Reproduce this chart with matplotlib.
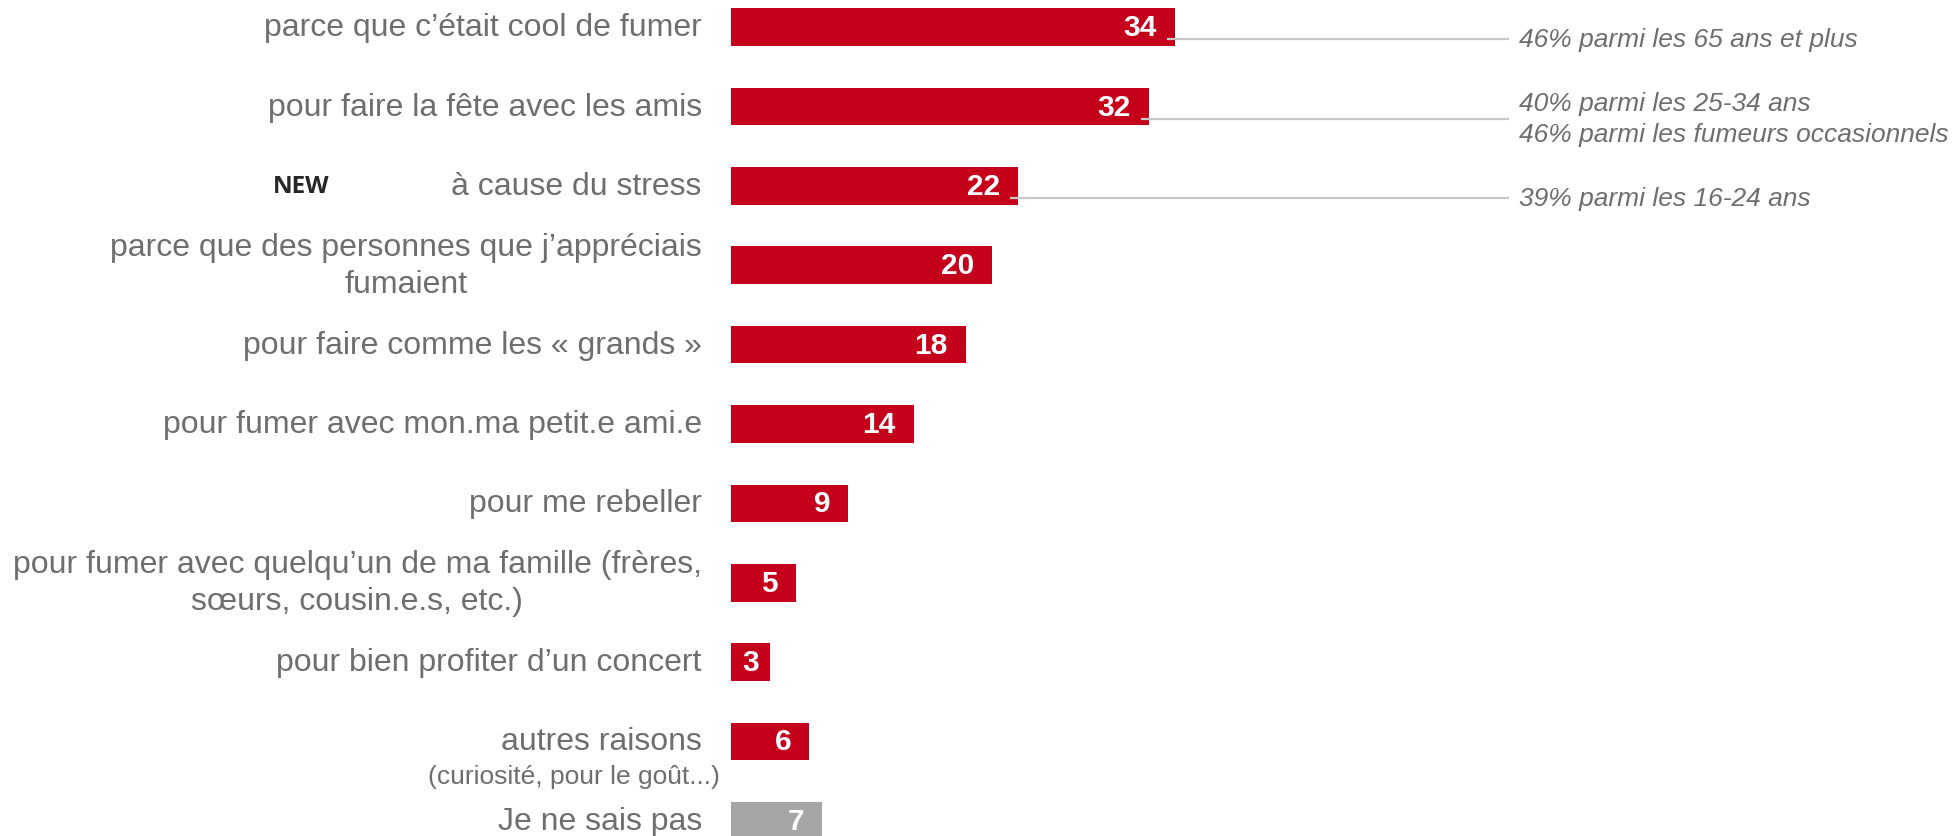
import numpy as np
import matplotlib
matplotlib.use("Agg")
import matplotlib.pyplot as plt

plt.rcParams["font.family"] = ["Liberation Sans", "DejaVu Sans"]

# data
labels = [
    "parce que c’était cool de fumer",
    "pour faire la fête avec les amis",
    "à cause du stress",
    "parce que des personnes que j’appréciais\nfumaient",
    "pour faire comme les « grands »",
    "pour fumer avec mon.ma petit.e ami.e",
    "pour me rebeller",
    "pour fumer avec quelqu’un de ma famille (frères,\nsœurs, cousin.e.s, etc.)",
    "pour bien profiter d’un concert",
    "autres raisons",
    "Je ne sais pas",
]
values = [34, 32, 22, 20, 18, 14, 9, 5, 3, 6, 7]
is_dontknow = [False] * 10 + [True]
sub_note = {9: "(curiosité, pour le goût...)"}
new_flag = {2: "NEW"}
callouts = {
    0: "46% parmi les 65 ans et plus",
    1: "40% parmi les 25-34 ans\n46% parmi les fumeurs occasionnels",
    2: "39% parmi les 16-24 ans",
}

RED = "#C4001A"
GREY_BAR = "#A6A6A6"
TXT = "#6E6E6E"

W, H = 1956, 837
fig = plt.figure(figsize=(W / 100, H / 100), dpi=100)
fig.patch.set_facecolor("white")

left_px = 731
px_per_unit = 13.05
row_px = 79.36
top_px = 28.2

ax = fig.add_axes([left_px / W, 0, 1 - left_px / W, 1])
ax.set_xlim(0, (W - left_px) / px_per_unit)
ax.set_ylim((H - top_px) / row_px, -top_px / row_px)
ax.axis("off")

y = np.arange(len(values))
colors = [GREY_BAR if g else RED for g in is_dontknow]
ax.barh(y, values, height=0.475, color=colors, zorder=2)

# callout lines + texts
trans = ax.get_yaxis_transform()
x_end = 0.635 * ax.get_xlim()[1]
for i, txt in callouts.items():
    ly = y[i] + 12 / row_px
    x0 = values[i] - 8 / px_per_unit
    ax.plot([x0, x_end], [ly, ly], color="#C8C8C8", lw=1.6, zorder=3,
            solid_capstyle="butt")
    ax.text(0.643, ly, txt, transform=trans, ha="left", va="center",
            fontsize=19, style="italic", color=TXT, linespacing=1.35)

# value labels
for i, v in enumerate(values):
    if v <= 3:
        ax.text(v / 2, y[i], str(v), ha="center", va="center", color="white",
                fontsize=21.5, fontweight="bold", zorder=4)
    else:
        ax.annotate(str(v), (v, y[i]), xytext=(-13, 0), textcoords="offset points",
                    ha="right", va="center", color="white", fontsize=21.5,
                    fontweight="bold", zorder=4)

# category labels
for i, lab in enumerate(labels):
    ax.annotate(lab, (0, y[i]), xytext=(-21, 0), textcoords="offset points",
                ha="right", va="center", multialignment="center", color=TXT,
                fontsize=23, linespacing=1.3, annotation_clip=False)

for i, note in sub_note.items():
    ax.annotate(note, (0, y[i] + 35 / row_px), xytext=(-8, 0),
                textcoords="offset points", ha="right", va="center",
                color=TXT, fontsize=19, annotation_clip=False)

for i, flag in new_flag.items():
    ax.annotate(flag, (0, y[i]), xytext=(-(left_px - 273) * 0.72, 0),
                textcoords="offset points", ha="left", va="center",
                color="#262626", fontsize=17.5, fontweight="bold",
                family=["Open Sans", "DejaVu Sans"], annotation_clip=False)

fig.savefig("out.png", dpi=100, facecolor="white")
